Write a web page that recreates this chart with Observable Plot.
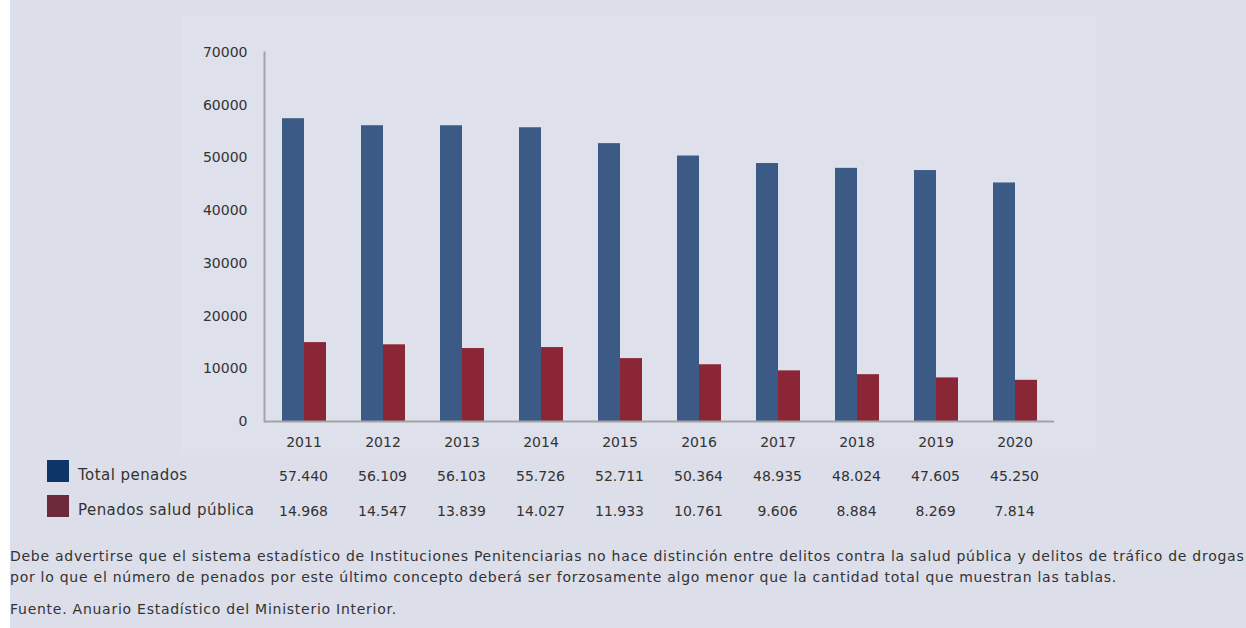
<!DOCTYPE html>
<html>
<head>
<meta charset="utf-8">
<script src="https://cdn.jsdelivr.net/npm/d3@7"></script>
<script src="https://cdn.jsdelivr.net/npm/@observablehq/plot@0.6"></script>
<style>
  html, body { margin: 0; padding: 0; background: #ffffff; }
  body { width: 1246px; height: 628px; overflow: hidden; position: relative; font-family: "DejaVu Sans", sans-serif; }
  #panel { position: absolute; left: 10px; top: 0; width: 1236px; height: 628px; background: #dcdeea; overflow: hidden; }
  #chart { position: absolute; left: 172px; top: 15px; }
  .lbl { position: absolute; font-size: 15px; letter-spacing: 0.45px; color: #333; white-space: nowrap; line-height: 1; }
  .val { position: absolute; font-size: 14px; color: #333; white-space: nowrap; line-height: 1; transform: translateX(-50%); }
  .sw { position: absolute; width: 22px; height: 22px; }
  .foot { position: absolute; left: 0; font-size: 14px; letter-spacing: 0.74px; color: #333; white-space: nowrap; line-height: 1; }
</style>
</head>
<body>
<div id="panel">
  <div id="chart"></div>
</div>
<script>
const years = ["2011","2012","2013","2014","2015","2016","2017","2018","2019","2020"];
const totalPenados = [57440, 56109, 56103, 55726, 52711, 50364, 48935, 48024, 47605, 45250];
const saludPublica = [14968, 14547, 13839, 14027, 11933, 10761, 9606, 8884, 8269, 7814];
const series = ["Total penados", "Penados salud pública"];
const barColors = ["#3b5a85", "#8a2635"];
const legendColors = ["#0e3568", "#6d2a3a"];
const yTicks = [0, 10000, 20000, 30000, 40000, 50000, 60000, 70000];
const footLines = [
  "Debe advertirse que el sistema estadístico de Instituciones Penitenciarias no hace distinción entre delitos contra la salud pública y delitos de tráfico de drogas",
  "por lo que el número de penados por este último concepto deberá ser forzosamente algo menor que la cantidad total que muestran las tablas.",
  "Fuente. Anuario Estadístico del Ministerio Interior."
];

const data = [];
years.forEach((y, i) => {
  data.push({year: y, serie: series[0], value: totalPenados[i]});
  data.push({year: y, serie: series[1], value: saludPublica[i]});
});

const chart = Plot.plot({
  width: 914,
  height: 440,
  marginLeft: 78,
  marginRight: 38,
  marginTop: 37,
  marginBottom: 34,
  style: {background: "#dee0ec", fontFamily: "DejaVu Sans", fontSize: "14px", color: "#333"},
  fx: {domain: years, padding: 0, label: null, tickSize: 0, tickPadding: 16, axis: "bottom"},
  x: {domain: series, paddingInner: 0, paddingOuter: 0.73, axis: null},
  y: {domain: [0, 70000], ticks: yTicks, tickFormat: d => String(d), tickSize: 0, tickPadding: 17, label: null},
  color: {domain: series, range: barColors},
  marks: [
    Plot.barY(data, {fx: "year", x: "serie", y: "value", fill: "serie", inset: 0}),
    Plot.ruleY([0], {stroke: "#a3a3a3", strokeWidth: 2}),
    Plot.frame({anchor: "left", facetAnchor: "left", stroke: "#a3a3a3", strokeWidth: 2})
  ]
});
document.getElementById("chart").appendChild(chart);

const panel = document.getElementById("panel");
const fx = chart.scale("fx");
const chartLeft = 172;
const fmt = d3.formatLocale({decimal: ",", thousands: ".", grouping: [3], currency: ["", ""]}).format(",d");
const rows = [totalPenados, saludPublica];
const rowCenters = [476, 511];

rows.forEach((vals, r) => {
  const sw = document.createElement("div");
  sw.className = "sw";
  sw.style.left = (47 - 10) + "px";
  sw.style.top = (rowCenters[r] - 16) + "px";
  sw.style.background = legendColors[r];
  panel.appendChild(sw);

  const lb = document.createElement("div");
  lb.className = "lbl";
  lb.style.left = (78 - 10) + "px";
  lb.style.top = (rowCenters[r] - 8) + "px";
  lb.textContent = series[r];
  panel.appendChild(lb);

  years.forEach((y, i) => {
    const c = chartLeft + fx.apply(y) + fx.bandwidth / 2;
    const v = document.createElement("div");
    v.className = "val";
    v.style.left = c + "px";
    v.style.top = (rowCenters[r] - 7) + "px";
    v.textContent = fmt(vals[i]);
    panel.appendChild(v);
  });
});

const footTops = [549, 570, 602];
footLines.forEach((t, i) => {
  const f = document.createElement("div");
  f.className = "foot";
  f.style.top = footTops[i] + "px";
  f.textContent = t;
  panel.appendChild(f);
});
</script>
</body>
</html>
